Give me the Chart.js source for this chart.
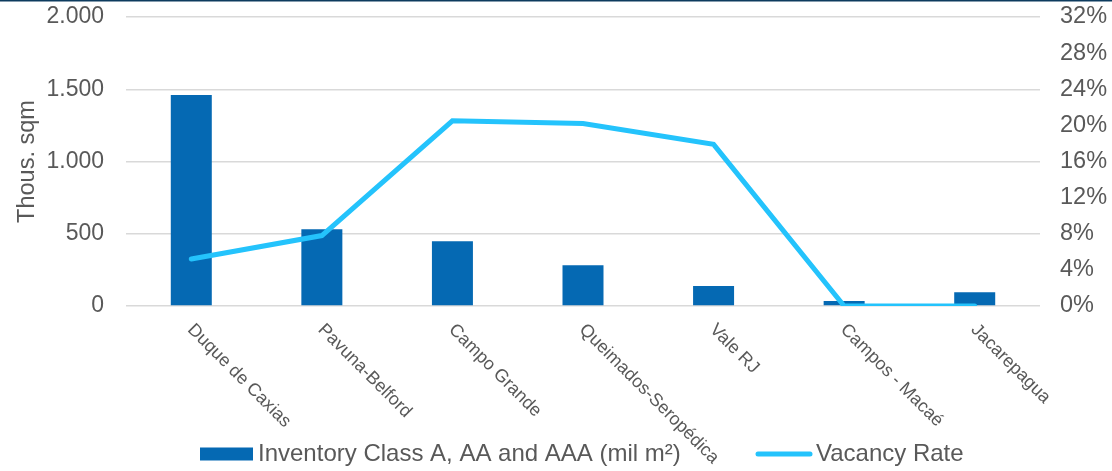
<!DOCTYPE html>
<html>
<head>
<meta charset="utf-8">
<title>Inventory and Vacancy Rate</title>
<script src="https://cdn.jsdelivr.net/npm/chart.js@4.4.1/dist/chart.umd.min.js"></script>
<style>
  html, body { margin: 0; padding: 0; background: #ffffff; }
  canvas { display: block; }
</style>
</head>
<body>
<canvas id="chart" width="1112" height="471"></canvas>
<script>
// Regions and their figures
const categories = ['Duque de Caxias', 'Pavuna-Belford', 'Campo Grande', 'Queimados-Seropédica', 'Vale RJ', 'Campos - Macaé', 'Jacarepagua'];
const inventory = [1460, 531, 448, 282, 138, 35, 95];      // thousand sqm
const vacancyRate = [5.2, 7.8, 20.5, 20.2, 17.9, 0, 0];     // percent
const inventoryTicks = [0, 500, 1000, 1500, 2000];
const vacancyTicks = [0, 4, 8, 12, 16, 20, 24, 28, 32];
const inventoryLabel = 'Inventory Class A, AA and AAA (mil m²)';
const vacancyLabel = 'Vacancy Rate';
const axisTitle = 'Thous. sqm';

const FONT = '"Liberation Sans", Arial, sans-serif';
const TEXT = '#595959';
const BAR = '#0569b3';
const LINE = '#24c3fc';

function thousands(v) {
  return String(v).replace(/\B(?=(\d{3})+(?!\d))/g, '.');
}

// Rotated category labels, legend and the rule at the top edge
const decorations = {
  id: 'decorations',
  afterDraw(chart) {
    const ctx = chart.ctx;
    const x = chart.scales.x;
    ctx.save();
    ctx.fillStyle = '#0d3b5e';
    ctx.fillRect(0, 0, chart.width, 1.5);

    ctx.fillStyle = TEXT;
    ctx.font = '18px ' + FONT;
    ctx.textAlign = 'left';
    ctx.textBaseline = 'middle';
    categories.forEach((c, i) => {
      const px = x.getPixelForTick(i);
      ctx.save();
      ctx.translate(px - 1, 327);
      ctx.rotate(Math.PI / 4);
      ctx.fillText(c, 0, 0);
      ctx.restore();
    });

    // legend
    const ly = 454;
    ctx.font = '24px ' + FONT;
    ctx.fillStyle = BAR;
    ctx.fillRect(200, ly - 6.5, 53, 13);
    ctx.fillStyle = TEXT;
    ctx.fillText(chart.data.datasets[0].label, 258, ly);

    ctx.strokeStyle = LINE;
    ctx.lineWidth = 5;
    ctx.lineCap = 'round';
    ctx.beginPath();
    ctx.moveTo(758, ly);
    ctx.lineTo(810, ly);
    ctx.stroke();
    ctx.fillText(chart.data.datasets[1].label, 816, ly);
    ctx.restore();
  }
};

function noOverflow(s) {
  s.paddingTop = 0;
  s.paddingBottom = 0;
}

new Chart(document.getElementById('chart'), {
  data: {
    labels: categories,
    datasets: [
      {
        type: 'bar',
        label: inventoryLabel,
        data: inventory,
        yAxisID: 'y',
        backgroundColor: BAR,
        borderWidth: 0,
        categoryPercentage: 1,
        barPercentage: 0.314,
        order: 1
      },
      {
        type: 'line',
        label: vacancyLabel,
        data: vacancyRate,
        yAxisID: 'y1',
        borderColor: LINE,
        backgroundColor: LINE,
        borderWidth: 5,
        pointRadius: 0,
        tension: 0,
        borderCapStyle: 'round',
        borderJoinStyle: 'miter',
        order: 0
      }
    ]
  },
  options: {
    responsive: false,
    animation: false,
    devicePixelRatio: 1,
    layout: { padding: { top: 17, left: 0, right: 0, bottom: 0 } },
    plugins: {
      legend: { display: false },
      tooltip: { enabled: false }
    },
    scales: {
      x: {
        grid: { display: false },
        border: { display: false },
        ticks: { display: false },
        afterFit(s) { s.height = 165; s.paddingLeft = 0; s.paddingRight = 0; }
      },
      y: {
        position: 'left',
        min: 0,
        max: 2000,
        afterBuildTicks(s) { s.ticks = inventoryTicks.map(v => ({ value: v })); },
        grid: { color: '#d9d9d9', lineWidth: 1.5, drawTicks: false },
        border: { display: false },
        ticks: {
          padding: 22,
          color: TEXT,
          font: { family: FONT, size: 23 },
          callback: v => thousands(v)
        },
        title: {
          display: true,
          text: axisTitle,
          color: TEXT,
          font: { family: FONT, size: 23.5 },
          padding: { top: 13, bottom: 0 }
        },
        afterFit(s) { s.width = 126; noOverflow(s); }
      },
      y1: {
        position: 'right',
        min: 0,
        max: 32,
        afterBuildTicks(s) { s.ticks = vacancyTicks.map(v => ({ value: v })); },
        grid: { display: false, drawTicks: false },
        border: { display: false },
        ticks: {
          padding: 20,
          color: TEXT,
          font: { family: FONT, size: 23.5 },
          callback: v => v + '%'
        },
        afterFit(s) { s.width = 72; noOverflow(s); }
      }
    }
  },
  plugins: [decorations]
});
</script>
</body>
</html>
